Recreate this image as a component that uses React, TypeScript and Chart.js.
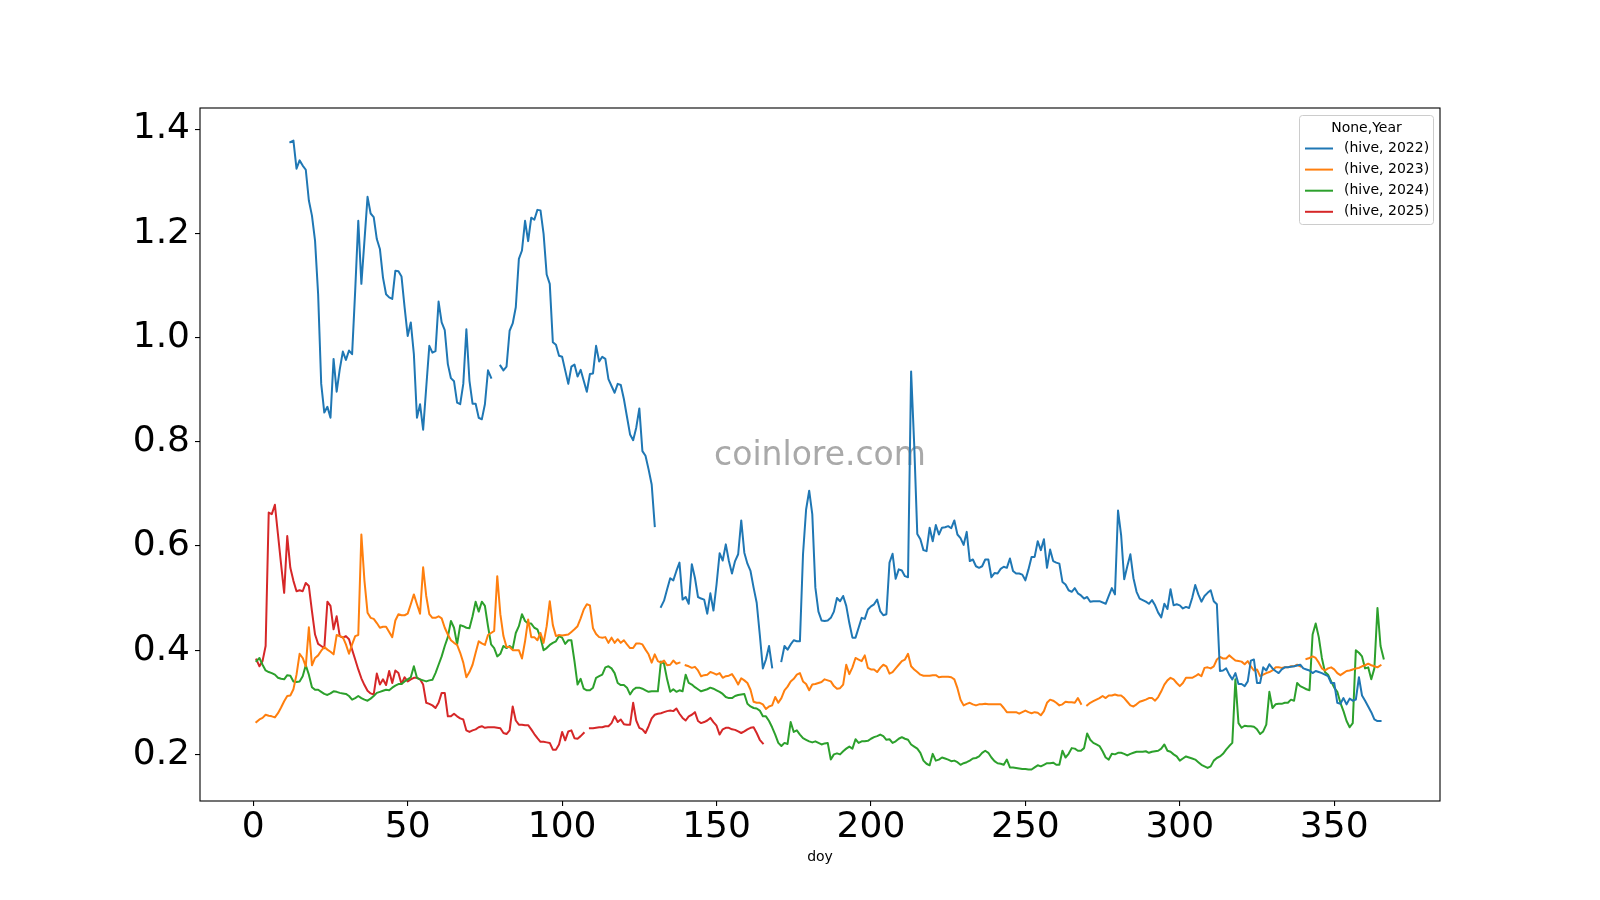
import React, { useEffect, useRef } from "react";
import { Chart, registerables } from "chart.js";

Chart.register(...registerables);

const xTicks = [0, 50, 100, 150, 200, 250, 300, 350];
const yTicks = [0.2, 0.4, 0.6, 0.8, 1.0, 1.2, 1.4];
const seriesLabels = ["(hive, 2022)", "(hive, 2023)", "(hive, 2024)", "(hive, 2025)"];
const seriesColors = ["#1f77b4", "#ff7f0e", "#2ca02c", "#d62728"];
const legendTitle = "None,Year";
const xLabel = "doy";
const watermark = "coinlore.com";

type Pt = [number, number | null];

const hive2022: Pt[] = [
  [12,1.375],[13,1.378],[14,1.324],[15,1.34],[16,1.33],[17,1.322],[18,1.263],[19,1.234],[20,1.186],[21,1.083],[22,0.911],[23,0.856],[24,0.867],[25,0.846],[26,0.959],[27,0.896],[28,0.939],[29,0.973],[30,0.957],[31,0.975],[32,0.968],[33,1.09],[34,1.224],[35,1.103],[36,1.186],[37,1.27],[38,1.238],[39,1.231],[40,1.189],[41,1.17],[42,1.115],[43,1.083],[44,1.077],[45,1.074],[46,1.128],[47,1.127],[48,1.117],[49,1.058],[50,1.003],[51,1.029],[52,0.968],[53,0.846],[54,0.872],[55,0.823],[56,0.904],[57,0.984],[58,0.971],[59,0.974],[60,1.069],[61,1.029],[62,1.014],[63,0.949],[64,0.922],[65,0.916],[66,0.875],[67,0.872],[68,0.911],[69,1.016],[70,0.917],[71,0.873],[72,0.873],[73,0.846],[74,0.843],[75,0.872],[76,0.937],[77,0.923],[78,null],
  [80,0.946],[81,0.937],[82,0.944],[83,1.013],[84,1.027],[85,1.058],[86,1.151],[87,1.167],[88,1.224],[89,1.185],[90,1.23],[91,1.226],[92,1.245],[93,1.244],[94,1.199],[95,1.121],[96,1.103],[97,0.991],[98,0.986],[99,0.965],[100,0.963],[101,0.937],[102,0.911],[103,0.944],[104,0.948],[105,0.925],[106,0.938],[107,0.917],[108,0.896],[109,0.93],[110,0.931],[111,0.984],[112,0.954],[113,0.963],[114,0.959],[115,0.92],[116,0.907],[117,0.894],[118,0.911],[119,0.909],[120,0.882],[121,0.848],[122,0.814],[123,0.803],[124,0.827],[125,0.864],[126,0.782],[127,0.773],[128,0.747],[129,0.718],[130,0.638],[131,null],
  [132,0.483],[133,0.495],[134,0.517],[135,0.538],[136,0.534],[137,0.552],[138,0.568],[139,0.497],[140,0.502],[141,0.489],[142,0.565],[143,0.539],[144,0.502],[145,0.499],[146,0.497],[147,0.47],[148,0.509],[149,0.476],[150,0.526],[151,0.586],[152,0.572],[153,0.603],[154,0.571],[155,0.547],[156,0.571],[157,0.584],[158,0.649],[159,0.587],[160,0.566],[161,0.552],[162,0.52],[163,0.491],[164,0.43],[165,0.365],[166,0.382],[167,0.408],[168,0.367],[169,null],
  [171,0.379],[172,0.408],[173,0.401],[174,0.411],[175,0.419],[176,0.417],[177,0.417],[178,0.584],[179,0.67],[180,0.706],[181,0.661],[182,0.52],[183,0.474],[184,0.457],[185,0.456],[186,0.457],[187,0.462],[188,0.474],[189,0.5],[190,0.494],[191,0.504],[192,0.485],[193,0.452],[194,0.424],[195,0.424],[196,0.443],[197,0.462],[198,0.46],[199,0.478],[200,0.484],[201,0.488],[202,0.497],[203,0.475],[204,0.467],[205,0.469],[206,0.568],[207,0.585],[208,0.537],[209,0.555],[210,0.553],[211,0.542],[212,0.54],[213,0.935],[214,0.795],[215,0.623],[216,0.613],[217,0.592],[218,0.59],[219,0.635],[220,0.609],[221,0.64],[222,0.622],[223,0.635],[224,0.636],[225,0.638],[226,0.634],[227,0.649],[228,0.622],[229,0.615],[230,0.602],[231,0.627],[232,0.571],[233,0.574],[234,0.561],[235,0.558],[236,0.561],[237,0.574],[238,0.574],[239,0.54],[240,0.548],[241,0.547],[242,0.556],[243,0.56],[244,0.558],[245,0.576],[246,0.552],[247,0.547],[248,0.547],[249,0.545],[250,0.534],[251,0.555],[252,0.579],[253,0.579],[254,0.609],[255,0.592],[256,0.613],[257,0.558],[258,0.593],[259,0.571],[260,0.568],[261,0.566],[262,0.531],[263,0.526],[264,0.515],[265,0.512],[266,0.519],[267,0.509],[268,0.505],[269,0.499],[270,0.502],[271,0.493],[272,0.494],[274,0.494],[276,0.489],[277,0.504],[278,0.519],[279,0.507],[280,0.668],[281,0.621],[282,0.536],[283,0.561],[284,0.584],[285,0.538],[286,0.512],[287,0.499],[288,0.496],[289,0.493],[290,0.489],[291,0.496],[292,0.486],[293,0.472],[294,0.463],[295,0.489],[296,0.479],[297,0.517],[298,0.486],[299,0.488],[300,0.486],[301,0.48],[302,0.483],[303,0.481],[304,0.5],[305,0.525],[306,0.507],[307,0.493],[308,0.504],[309,0.51],[310,0.515],[311,0.494],[312,0.488],[313,0.36],[314,0.361],[315,0.365],[316,0.353],[317,0.344],[318,0.356],[319,0.335],[320,0.335],[321,0.331],[322,0.34],[323,0.38],[324,0.382],[325,0.337],[326,0.337],[327,0.367],[328,0.361],[329,0.373],[330,0.365],[331,0.36],[332,0.356],[333,0.363],[334,0.367],[335,0.367],[336,0.368],[337,0.369],[339,0.372],[340,0.365],[341,0.363],[342,0.361],[343,0.356],[344,0.36],[345,0.358],[346,0.356],[347,0.353],[348,0.35],[349,0.337],[350,0.337],[351,0.299],[352,0.297],[353,0.308],[354,0.296],[355,0.307],[356,0.303],[357,0.305],[358,0.348],[359,0.313],[360,0.303],[361,0.292],[362,0.281],[363,0.267],[364,0.264],[365,0.264],
];

const hive2023: Pt[] = [
  [1,0.262],[2,0.267],[3,0.27],[4,0.276],[5,0.274],[6,0.273],[7,0.271],[8,0.279],[9,0.29],[10,0.302],[11,0.312],[12,0.313],[13,0.325],[14,0.353],[15,0.393],[16,0.385],[17,0.369],[18,0.444],[19,0.371],[20,0.385],[21,0.39],[22,0.399],[23,0.406],[24,0.401],[25,0.397],[26,0.392],[27,0.429],[28,0.427],[29,0.425],[30,0.411],[31,0.393],[32,0.411],[33,0.427],[34,0.429],[35,0.622],[36,0.533],[37,0.472],[38,0.462],[39,0.46],[40,0.452],[41,0.443],[42,0.445],[43,0.445],[44,0.435],[45,0.425],[46,0.457],[47,0.469],[48,0.467],[49,0.467],[50,0.47],[51,0.488],[52,0.507],[53,0.488],[54,0.47],[55,0.559],[56,0.504],[57,0.469],[58,0.462],[59,0.462],[60,0.465],[61,0.461],[62,0.443],[63,0.43],[64,0.419],[65,0.414],[66,0.41],[67,0.395],[68,0.376],[69,0.348],[70,0.358],[71,0.372],[72,0.395],[73,0.417],[74,0.413],[75,0.41],[76,0.429],[77,0.433],[78,0.437],[79,0.542],[80,0.469],[81,0.427],[82,0.406],[83,0.406],[84,0.4],[85,0.4],[86,0.4],[87,0.384],[88,0.417],[89,0.459],[90,0.425],[91,0.425],[92,0.419],[93,0.433],[94,0.414],[95,0.446],[96,0.494],[97,0.448],[98,0.427],[99,0.429],[100,0.428],[101,0.429],[102,0.43],[103,0.435],[104,0.44],[105,0.446],[106,0.461],[107,0.478],[108,0.488],[109,0.486],[110,0.442],[111,0.431],[112,0.425],[113,0.424],[114,0.425],[115,0.414],[116,0.424],[117,0.414],[118,0.421],[119,0.414],[120,0.419],[121,0.411],[122,0.404],[123,0.404],[124,0.413],[125,0.413],[126,0.411],[127,0.401],[128,0.392],[129,0.376],[130,0.392],[131,0.379],[132,0.376],[133,0.38],[134,0.371],[135,0.372],[136,0.38],[137,0.374],[138,0.376],[139,null],
  [140,0.371],[141,0.369],[142,0.366],[143,0.368],[144,0.361],[145,0.35],[146,0.352],[147,0.353],[148,0.358],[149,0.356],[150,0.353],[151,0.356],[152,0.347],[153,0.35],[154,0.351],[155,0.354],[156,0.345],[157,0.334],[158,0.346],[159,0.342],[160,0.337],[161,0.324],[162,0.301],[163,0.299],[164,0.299],[165,0.296],[166,0.287],[167,0.292],[168,0.294],[169,0.31],[170,0.299],[171,0.308],[172,0.323],[173,0.33],[174,0.34],[175,0.345],[176,0.353],[177,0.356],[178,0.34],[179,0.335],[180,0.323],[181,0.334],[182,0.335],[183,0.337],[184,0.339],[185,0.344],[186,0.342],[187,0.34],[188,0.331],[189,0.326],[190,0.327],[191,0.334],[192,0.372],[193,0.354],[194,0.367],[195,0.385],[196,0.382],[197,0.379],[198,0.39],[199,0.366],[200,0.363],[201,0.363],[202,0.358],[203,0.366],[204,0.372],[205,0.369],[206,0.355],[207,0.358],[208,0.365],[209,0.372],[210,0.379],[211,0.382],[212,0.393],[213,0.369],[214,0.363],[215,0.358],[216,0.353],[217,0.351],[218,0.351],[219,0.351],[220,0.352],[221,0.352],[222,0.348],[223,0.349],[224,0.349],[225,0.349],[226,0.348],[227,0.344],[228,0.327],[229,0.305],[230,0.294],[231,0.297],[232,0.299],[233,0.296],[234,0.294],[235,0.296],[236,0.296],[237,0.297],[238,0.296],[239,0.296],[240,0.296],[241,0.296],[242,0.296],[243,0.289],[244,0.281],[245,0.281],[246,0.281],[247,0.281],[248,0.278],[249,0.281],[250,0.284],[251,0.281],[252,0.279],[253,0.281],[254,0.28],[255,0.275],[256,0.283],[257,0.299],[258,0.305],[259,0.303],[260,0.299],[261,0.294],[262,0.296],[263,0.301],[264,0.3],[265,0.3],[266,0.299],[267,0.308],[268,0.297],[269,null],
  [270,0.294],[271,0.299],[272,0.302],[273,0.305],[274,0.308],[275,0.312],[276,0.308],[277,0.313],[278,0.313],[279,0.315],[280,0.313],[281,0.313],[282,0.308],[283,0.301],[284,0.294],[285,0.292],[286,0.296],[287,0.301],[288,0.303],[289,0.305],[290,0.308],[291,0.308],[292,0.303],[293,0.31],[294,0.321],[295,0.334],[296,0.342],[297,0.347],[298,0.344],[299,0.337],[300,0.331],[301,0.337],[302,0.347],[303,0.347],[304,0.347],[305,0.35],[306,0.354],[307,0.35],[308,0.366],[309,0.367],[310,0.365],[311,0.369],[312,0.382],[313,0.387],[314,0.384],[315,0.384],[316,0.39],[317,0.385],[318,0.38],[319,0.379],[320,0.378],[321,0.373],[322,0.379],[323,0.369],[324,0.361],[325,0.363],[326,0.35],[327,0.353],[328,0.356],[329,0.358],[330,0.361],[331,0.367],[332,0.367],[333,0.366],[334,0.367],[335,0.367],[336,0.369],[337,0.369],[338,0.372],[339,0.369],[340,null],
  [341,0.383],[342,0.385],[343,0.388],[344,0.385],[345,0.376],[346,0.365],[347,0.361],[348,0.365],[349,0.367],[350,0.363],[351,0.356],[352,0.352],[353,0.356],[354,0.36],[355,0.361],[356,0.363],[357,0.365],[358,0.366],[359,0.369],[360,0.371],[361,0.374],[362,0.371],[363,0.369],[364,0.367],[365,0.371],
];

const hive2024: Pt[] = [
  [1,0.379],[2,0.385],[3,0.372],[4,0.361],[5,0.358],[6,0.356],[7,0.353],[8,0.347],[9,0.345],[10,0.344],[11,0.352],[12,0.351],[13,0.34],[14,0.339],[15,0.34],[16,0.35],[17,0.371],[18,0.353],[19,0.329],[20,0.324],[21,0.324],[22,0.32],[23,0.316],[24,0.314],[25,0.317],[26,0.321],[27,0.32],[28,0.318],[29,0.317],[30,0.316],[31,0.312],[32,0.305],[33,0.308],[34,0.312],[35,0.308],[36,0.305],[37,0.303],[38,0.307],[39,0.312],[40,0.318],[41,0.32],[42,0.322],[43,0.324],[44,0.323],[45,0.328],[46,0.332],[47,0.335],[48,0.335],[49,0.34],[50,0.344],[51,0.348],[52,0.369],[53,0.347],[54,0.344],[55,0.342],[56,0.34],[57,0.342],[58,0.343],[59,0.356],[60,0.372],[61,0.388],[62,0.408],[63,0.425],[64,0.456],[65,0.443],[66,0.411],[67,0.448],[68,0.446],[69,0.443],[70,0.442],[71,0.465],[72,0.493],[73,0.474],[74,0.493],[75,0.485],[76,0.446],[77,0.411],[78,0.404],[79,0.388],[80,0.393],[81,0.408],[82,0.404],[83,0.408],[84,0.403],[85,0.433],[86,0.446],[87,0.469],[88,0.456],[89,0.451],[90,0.451],[91,0.443],[92,0.44],[93,0.424],[94,0.4],[95,0.404],[96,0.41],[97,0.414],[98,0.417],[99,0.427],[100,0.424],[101,0.412],[102,0.419],[103,0.419],[104,0.379],[105,0.334],[106,0.345],[107,0.326],[108,0.323],[109,0.323],[110,0.328],[111,0.347],[112,0.35],[113,0.353],[114,0.367],[115,0.369],[116,0.365],[117,0.356],[118,0.337],[119,0.333],[120,0.333],[121,0.328],[122,0.315],[123,0.324],[124,0.328],[125,0.328],[126,0.326],[127,0.323],[128,0.32],[129,0.321],[130,0.321],[131,0.321],[132,0.378],[133,0.374],[134,0.344],[135,0.32],[136,0.325],[137,0.32],[138,0.323],[139,0.321],[140,0.353],[141,0.337],[142,0.334],[143,0.329],[144,0.325],[145,0.321],[146,0.323],[147,0.325],[148,0.328],[149,0.326],[150,0.323],[151,0.32],[152,0.316],[153,0.31],[154,0.308],[155,0.308],[156,0.312],[157,0.314],[158,0.315],[159,0.316],[160,0.297],[161,0.292],[162,0.289],[163,0.288],[164,0.284],[165,0.273],[166,0.273],[167,0.264],[168,0.252],[169,0.238],[170,0.222],[171,0.216],[172,0.222],[173,0.22],[174,0.262],[175,0.243],[176,0.246],[177,0.238],[178,0.231],[179,0.228],[180,0.225],[181,0.223],[182,0.225],[183,0.222],[184,0.219],[185,0.221],[186,0.222],[187,0.19],[188,0.2],[189,0.202],[190,0.2],[191,0.206],[192,0.211],[193,0.215],[194,0.211],[195,0.229],[196,0.222],[197,0.225],[198,0.225],[199,0.226],[200,0.23],[201,0.233],[202,0.235],[203,0.238],[204,0.235],[205,0.228],[206,0.229],[207,0.222],[208,0.225],[209,0.23],[210,0.233],[211,0.23],[212,0.228],[213,0.219],[214,0.215],[215,0.211],[216,0.203],[217,0.188],[218,0.182],[219,0.179],[220,0.201],[221,0.188],[222,0.19],[223,0.194],[224,0.192],[225,0.19],[226,0.187],[227,0.188],[228,0.185],[229,0.18],[230,0.183],[231,0.185],[232,0.188],[233,0.192],[234,0.193],[235,0.196],[236,0.203],[237,0.207],[238,0.203],[239,0.194],[240,0.187],[241,0.183],[242,0.182],[243,0.18],[244,0.19],[245,0.175],[246,0.175],[247,0.174],[248,0.173],[249,0.172],[250,0.172],[251,0.171],[252,0.171],[253,0.175],[254,0.179],[255,0.177],[256,0.18],[257,0.183],[258,0.183],[259,0.184],[260,0.18],[261,0.18],[262,0.207],[263,0.194],[264,0.201],[265,0.212],[266,0.211],[267,0.207],[268,0.207],[269,0.212],[270,0.24],[271,0.228],[272,0.222],[273,0.219],[274,0.216],[275,0.206],[276,0.194],[277,0.19],[278,0.201],[279,0.2],[280,0.203],[281,0.203],[282,0.201],[283,0.198],[284,0.201],[285,0.203],[286,0.205],[287,0.205],[288,0.205],[289,0.206],[290,0.203],[291,0.205],[292,0.206],[293,0.207],[294,0.211],[295,0.219],[296,0.207],[297,0.205],[298,0.2],[299,0.196],[300,0.188],[301,0.192],[302,0.196],[303,0.194],[304,0.192],[305,0.19],[306,0.185],[307,0.18],[308,0.177],[309,0.174],[310,0.177],[311,0.188],[312,0.193],[313,0.196],[314,0.201],[315,0.209],[316,0.216],[317,0.222],[318,0.344],[319,0.26],[320,0.251],[321,0.255],[322,0.254],[323,0.254],[324,0.253],[325,0.248],[326,0.239],[327,0.244],[328,0.257],[329,0.32],[330,0.289],[331,0.296],[332,0.297],[333,0.297],[334,0.299],[335,0.299],[336,0.305],[337,0.303],[338,0.337],[339,0.331],[340,0.328],[341,0.325],[342,0.323],[343,0.43],[344,0.451],[345,0.425],[346,0.385],[347,0.358],[348,0.353],[349,0.34],[350,0.328],[351,0.32],[352,0.299],[353,0.283],[354,0.264],[355,0.252],[356,0.26],[357,0.4],[358,0.395],[359,0.388],[360,0.365],[361,0.367],[362,0.344],[363,0.365],[364,0.481],[365,0.408],[366,0.384],
];

const hive2025: Pt[] = [
  [1,0.382],[2,0.369],[3,0.379],[4,0.408],[5,0.664],[6,0.661],[7,0.679],[8,0.622],[9,0.565],[10,0.51],[11,0.619],[12,0.558],[13,0.533],[14,0.513],[15,0.515],[16,0.513],[17,0.529],[18,0.523],[19,0.475],[20,0.43],[21,0.412],[22,0.408],[23,0.404],[24,0.493],[25,0.485],[26,0.44],[27,0.465],[28,0.427],[29,0.424],[30,0.427],[31,0.421],[32,0.401],[33,0.382],[34,0.363],[35,0.346],[36,0.333],[37,0.322],[38,0.317],[39,0.315],[40,0.355],[41,0.334],[42,0.344],[43,0.333],[44,0.36],[45,0.337],[46,0.361],[47,0.356],[48,0.335],[49,0.348],[50,0.34],[51,0.344],[52,0.347],[53,0.347],[54,0.344],[55,0.334],[56,0.299],[57,0.297],[58,0.294],[59,0.289],[60,0.299],[61,0.318],[62,0.318],[63,0.273],[64,0.273],[65,0.278],[66,0.273],[67,0.269],[68,0.267],[69,0.246],[70,0.243],[71,0.246],[72,0.248],[73,0.252],[74,0.254],[75,0.251],[76,0.252],[77,0.252],[78,0.252],[79,0.251],[80,0.25],[81,0.241],[82,0.239],[83,0.246],[84,0.292],[85,0.265],[86,0.257],[87,0.257],[88,0.256],[89,0.256],[90,0.248],[91,0.239],[92,0.231],[93,0.224],[94,0.224],[95,0.223],[96,0.222],[97,0.209],[98,0.209],[99,0.219],[100,0.243],[101,0.227],[102,0.244],[103,0.246],[104,0.231],[105,0.23],[106,0.235],[107,0.241],[108,null],
  [109,0.25],[110,0.25],[111,0.251],[112,0.252],[113,0.252],[114,0.254],[115,0.254],[116,0.26],[117,0.273],[118,0.262],[119,0.267],[120,0.258],[121,0.257],[122,0.257],[123,0.299],[124,0.265],[125,0.251],[126,0.248],[127,0.241],[128,0.254],[129,0.269],[130,0.276],[131,0.278],[132,0.279],[133,0.281],[134,0.283],[135,0.284],[136,0.283],[137,0.288],[138,0.278],[139,0.27],[140,0.265],[141,0.273],[142,0.276],[143,0.281],[144,0.264],[145,0.26],[146,0.262],[147,0.265],[148,0.27],[149,0.262],[150,0.255],[151,0.238],[152,0.248],[153,0.251],[154,0.251],[155,0.248],[156,0.247],[157,0.244],[158,0.241],[159,0.244],[160,0.248],[161,0.251],[162,0.252],[163,0.241],[164,0.228],[165,0.221],
];

const seriesData: Pt[][] = [hive2022, hive2023, hive2024, hive2025];

const FONT = "'DejaVu Sans', sans-serif";

const decorPlugin = {
  id: "decor",
  beforeDatasetsDraw(chart: any) {
    const { ctx, chartArea } = chart;
    ctx.save();
    ctx.font = `33px ${FONT}`;
    ctx.fillStyle = "#a9a9a9";
    ctx.textAlign = "center";
    ctx.textBaseline = "alphabetic";
    ctx.fillText(watermark, (chartArea.left + chartArea.right) / 2, (chartArea.top + chartArea.bottom) / 2 + 10);
    ctx.restore();
  },
  afterDraw(chart: any) {
    const { ctx, chartArea } = chart;
    ctx.save();
    ctx.strokeStyle = "#000";
    ctx.lineWidth = 1.1;
    ctx.strokeRect(chartArea.left, chartArea.top, chartArea.right - chartArea.left, chartArea.bottom - chartArea.top);

    // legend (upper right, inside axes)
    const bx = chartArea.right - 141;
    const by = chartArea.top + 7;
    const bw = 134;
    const bh = 109;
    ctx.beginPath();
    if (ctx.roundRect) ctx.roundRect(bx + 0.5, by + 0.5, bw, bh, 3);
    else ctx.rect(bx + 0.5, by + 0.5, bw, bh);
    ctx.fillStyle = "rgba(255,255,255,0.8)";
    ctx.fill();
    ctx.strokeStyle = "#cccccc";
    ctx.lineWidth = 1;
    ctx.stroke();

    ctx.fillStyle = "#000";
    ctx.font = `14px ${FONT}`;
    ctx.textBaseline = "middle";
    ctx.textAlign = "center";
    ctx.fillText(legendTitle, bx + bw / 2 + 0.5, by + 13);
    ctx.textAlign = "left";
    chart.data.datasets.forEach((ds: any, i: number) => {
      const y = by + 33.5 + i * 21.1;
      ctx.strokeStyle = ds.borderColor;
      ctx.lineWidth = 2;
      ctx.beginPath();
      ctx.moveTo(bx + 6, y);
      ctx.lineTo(bx + 34, y);
      ctx.stroke();
      ctx.fillStyle = "#000";
      ctx.fillText(ds.label, bx + 45, y);
    });
    ctx.restore();
  },
};

export default function App() {
  const ref = useRef<HTMLCanvasElement | null>(null);

  useEffect(() => {
    document.body.style.margin = "0";
    const canvas = ref.current;
    if (!canvas) return;
    const chart = new Chart(canvas, {
      type: "line",
      data: {
        datasets: seriesData.map((s, i) => ({
          label: seriesLabels[i],
          data: s.map(([x, y]) => ({ x, y })),
          borderColor: seriesColors[i],
          backgroundColor: seriesColors[i],
          borderWidth: 2,
          pointRadius: 0,
          pointHoverRadius: 0,
          tension: 0,
          spanGaps: false,
          borderJoinStyle: "round",
          borderCapStyle: "square",
        })),
      },
      options: {
        responsive: false,
        animation: false,
        devicePixelRatio: 1,
        events: [],
        layout: { padding: { left: 0, right: 160, top: 108, bottom: 0 } },
        plugins: {
          legend: { display: false },
          tooltip: { enabled: false },
        },
        scales: {
          x: {
            type: "linear",
            min: -17.25,
            max: 384.25,
            bounds: "data",
            afterBuildTicks: (s: any) => {
              s.ticks = xTicks.map((value) => ({ value }));
            },
            afterFit: (s: any) => {
              s.height = 99;
            },
            ticks: {
              autoSkip: false,
              maxRotation: 0,
              padding: 4,
              color: "#000",
              font: { family: FONT, size: 36, lineHeight: 1 },
              callback: (v: any) => String(v),
            },
            grid: { display: true, drawOnChartArea: false, drawTicks: true, tickLength: 5, color: "#000", lineWidth: 1.1 },
            border: { display: false },
            title: {
              display: true,
              text: xLabel,
              color: "#000",
              font: { family: FONT, size: 14 },
              padding: { top: 0, bottom: 34 },
            },
          },
          y: {
            type: "linear",
            min: 0.1105,
            max: 1.4405,
            bounds: "data",
            afterBuildTicks: (s: any) => {
              s.ticks = yTicks.map((value) => ({ value }));
            },
            afterFit: (s: any) => {
              s.width = 200;
            },
            ticks: {
              autoSkip: false,
              padding: 5,
              color: "#000",
              font: { family: FONT, size: 36, lineHeight: 1 },
              callback: (v: any) => Number(v).toFixed(1),
            },
            grid: { display: true, drawOnChartArea: false, drawTicks: true, tickLength: 5, color: "#000", lineWidth: 1.1 },
            border: { display: false },
          },
        },
      },
      plugins: [decorPlugin],
    } as any);
    return () => chart.destroy();
  }, []);

  return (
    <div style={{ position: "absolute", left: 0, top: 0, width: 1600, height: 900, background: "#fff" }}>
      <canvas ref={ref} width={1600} height={900} style={{ display: "block", width: 1600, height: 900 }} />
    </div>
  );
}
